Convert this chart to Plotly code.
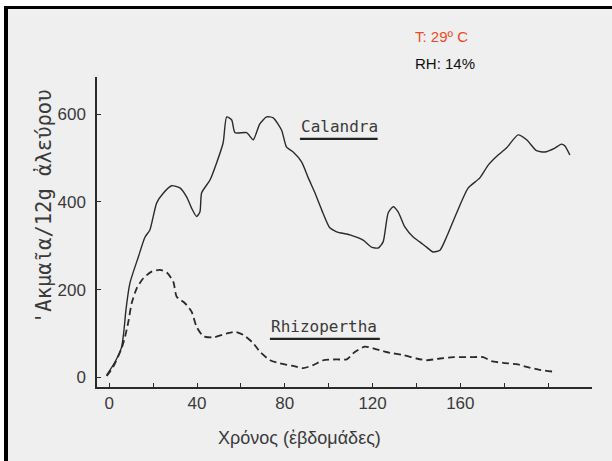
import plotly.graph_objects as go

# ---- data ----
calandra_weeks = [-1.2, 2.6, 5.6, 6.7, 7.6, 9.4, 13.2, 16.3, 18.5, 21.6, 24.6, 28.4, 32.2, 35.3,
                  37.5, 39.8, 41.3, 42.1, 45.9, 48.9, 51.9, 53.5, 55.8, 57.3, 62.6, 65.6, 68.6,
                  71.7, 74.7, 78.5, 80.8, 83.8, 87.7, 90.7, 93.7, 96.8, 100.5, 103.6, 109.7,
                  115.7, 119.5, 122.6, 124.8, 127.1, 129.4, 131.7, 134.7, 138.5, 141.5, 144.6,
                  147.6, 150.7, 153.7, 158.3, 163.6, 168.9, 172.7, 177.2, 181.0, 186.3, 190.2,
                  194.7, 198.5, 203.1, 206.1, 207.6, 209.9]
calandra_adults = [5, 35, 69, 108, 154, 215, 274, 320, 336, 398, 420, 437, 432, 411,
                   386, 367, 377, 421, 450, 489, 535, 594, 587, 558, 558, 542, 578,
                   594, 592, 564, 525, 514, 491, 455, 421, 382, 341, 332, 325,
                   313, 297, 295, 309, 375, 389, 377, 343, 320, 309, 297,
                   286, 290, 320, 375, 432, 455, 484, 507, 523, 553, 542,
                   517, 514, 523, 532, 528, 507]

rhizopertha_weeks = [-1.2, 1.8, 5.6, 7.2, 8.7, 10.2, 12.5, 15.5, 19.3, 23.1, 26.2, 29.2, 30.7,
                     34.5, 37.5, 39.8, 42.8, 47.4, 53.5, 57.3, 61.0, 65.6, 68.7, 73.3, 77.8,
                     83.8, 88.4, 92.9, 97.5, 103.6, 108.2, 111.9, 116.5, 121.8, 127.9, 133.9,
                     140.0, 144.6, 150.7, 156.7, 164.3, 170.4, 174.2, 179.5, 185.6, 190.2,
                     196.2, 202.3]
rhizopertha_adults = [3, 24, 66, 93, 127, 169, 203, 226, 241, 245, 239, 218, 184,
                      169, 150, 115, 94, 91, 100, 104, 97, 78, 58, 39, 32,
                      26, 21, 28, 39, 41, 41, 58, 70, 64, 56, 51,
                      43, 39, 43, 46, 46, 46, 37, 33, 30, 24,
                      17, 13]

x_tick_values = [0, 20, 40, 60, 80, 100, 120, 140, 160, 180, 200]
x_tick_labels = ["0", "", "40", "", "80", "", "120", "", "160", "", ""]
y_tick_values = [0, 200, 400, 600]
y_tick_labels = ["0", "200", "400", "600"]

series_names = ["Calandra", "Rhizopertha"]
x_title = "Χρόνος (ἐβδομάδες)"
y_title = "'Ακμαῖα/12g ἀλεύρου"
temp_text = "T: 29º C"
rh_text = "RH: 14%"

# ---- layout geometry (pixels) ----
W, H = 612, 461
L, R, T, B = 97, 592, 77, 387
def px_x(p):
    return (p - L) / (R - L)
def px_y(p):
    return (B - p) / (B - T)

tick_font = "Liberation Sans Narrow, Liberation Sans, Arial"
mono = "DejaVu Sans Mono, Liberation Mono"
ink = "#2a2a2a"
txt = "#3a3a3a"
bg = "#efefef"

fig = go.Figure()
fig.add_trace(go.Scatter(x=calandra_weeks, y=calandra_adults, mode="lines",
                         name=series_names[0],
                         line=dict(color=ink, width=1.4, shape="spline", smoothing=0.6)))
fig.add_trace(go.Scatter(x=rhizopertha_weeks, y=rhizopertha_adults, mode="lines",
                         name=series_names[1],
                         line=dict(color=ink, width=1.8, dash="7px,4px", shape="spline", smoothing=0.6)))

annotations = [
    dict(text=series_names[0], x=105.1, y=571, xref="x", yref="y", showarrow=False,
         xanchor="center", yanchor="middle",
         font=dict(family=mono, size=16, color=txt)),
    dict(text=series_names[1], x=97.8, y=115, xref="x", yref="y", showarrow=False,
         xanchor="center", yanchor="middle",
         font=dict(family=mono, size=16, color=txt)),
    dict(text=x_title, x=px_x(299), y=px_y(438), xref="paper", yref="paper", showarrow=False,
         xanchor="center", yanchor="middle",
         font=dict(family=tick_font, size=18, color=txt)),
    dict(text=y_title, x=px_x(44), y=px_y(207), xref="paper", yref="paper", showarrow=False,
         xanchor="center", yanchor="middle",
         textangle=-90, font=dict(family=mono, size=20.5, color=txt)),
    dict(text=temp_text, x=px_x(413), y=px_y(37), xref="paper", yref="paper", showarrow=False,
         xanchor="left", yanchor="middle",
         font=dict(family="Liberation Sans, Arial", size=15, color="#f04a24")),
    dict(text=rh_text, x=px_x(413), y=px_y(64), xref="paper", yref="paper", showarrow=False,
         xanchor="left", yanchor="middle",
         font=dict(family="Liberation Sans, Arial", size=15, color="#111")),
]

shapes = [
    # underlines of the curve labels
    dict(type="line", xref="x", yref="y", x0=86.9, x1=122.3, y0=544, y1=544,
         line=dict(color="#222", width=2.2)),
    dict(type="line", xref="x", yref="y", x0=73.2, x1=123.3, y0=87.6, y1=87.6,
         line=dict(color="#222", width=2.2)),
    # white margins outside the scanned page
    dict(type="rect", xref="paper", yref="paper", x0=px_x(-2), x1=px_x(W + 2), y0=px_y(6), y1=px_y(-2),
         fillcolor="white", line=dict(width=0), layer="below"),
    dict(type="rect", xref="paper", yref="paper", x0=px_x(-2), x1=px_x(4), y0=px_y(H + 2), y1=px_y(-2),
         fillcolor="white", line=dict(width=0), layer="below"),
    # black frame edges
    dict(type="line", xref="paper", yref="paper", x0=px_x(4), x1=px_x(W + 2), y0=px_y(7.5), y1=px_y(7.5),
         line=dict(color="black", width=3)),
    dict(type="line", xref="paper", yref="paper", x0=px_x(6), x1=px_x(6), y0=px_y(6), y1=px_y(H + 2),
         line=dict(color="black", width=4)),
]

fig.update_layout(
    width=W, height=H,
    margin=dict(l=L, r=W - R, t=T, b=H - B),
    paper_bgcolor=bg, plot_bgcolor=bg,
    showlegend=False,
    hovermode=False,
    annotations=annotations,
    shapes=shapes,
    xaxis=dict(range=[-5.6, 220], tickmode="array", tickvals=x_tick_values, ticktext=x_tick_labels,
               ticks="inside", ticklen=4, tickwidth=1.2, tickcolor=ink,
               showline=True, linecolor=ink, linewidth=1.5, showgrid=False, zeroline=False,
               tickfont=dict(family=tick_font, size=17, color=txt)),
    yaxis=dict(range=[-22, 685], tickmode="array", tickvals=y_tick_values, ticktext=y_tick_labels,
               ticks="inside", ticklen=4, tickwidth=1.2, tickcolor=ink,
               showline=True, linecolor=ink, linewidth=1.5, showgrid=False, zeroline=False,
               ticklabelstandoff=6,
               tickfont=dict(family=tick_font, size=17, color=txt)),
)

fig.write_html("out.html", config={"displayModeBar": False},
               post_script="document.body.style.margin='0';")
